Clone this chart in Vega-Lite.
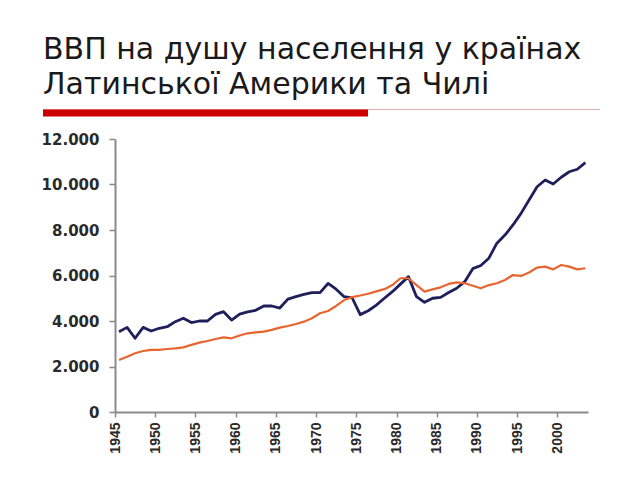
{
  "$schema": "https://vega.github.io/schema/vega-lite/v6.json",
  "width": 473,
  "height": 273,
  "autosize": {"type": "none"},
  "padding": {"left": 115, "top": 139, "right": 52, "bottom": 68},
  "background": "white",
  "config": {"view": {"stroke": null}, "axis": {"grid": false}},
  "title": {
    "text": ["ВВП на душу населення у країнах", "Латинської Америки та Чилі"],
    "anchor": "start",
    "frame": "group",
    "dx": -72,
    "font": "DejaVu Sans",
    "fontSize": 30,
    "fontWeight": "normal",
    "color": "#1a1a1a",
    "lineHeight": 35,
    "offset": 9
  },
  "layer": [
    {
      "data": {"values": [
        {"year": 1945, "series": "Чилі", "value": 3530},
        {"year": 1946, "series": "Чилі", "value": 3720},
        {"year": 1947, "series": "Чилі", "value": 3240},
        {"year": 1948, "series": "Чилі", "value": 3720},
        {"year": 1949, "series": "Чилі", "value": 3560},
        {"year": 1950, "series": "Чилі", "value": 3680},
        {"year": 1951, "series": "Чилі", "value": 3750},
        {"year": 1952, "series": "Чилі", "value": 3970},
        {"year": 1953, "series": "Чилі", "value": 4120},
        {"year": 1954, "series": "Чилі", "value": 3930},
        {"year": 1955, "series": "Чилі", "value": 4000},
        {"year": 1956, "series": "Чилі", "value": 4000},
        {"year": 1957, "series": "Чилі", "value": 4290},
        {"year": 1958, "series": "Чилі", "value": 4410},
        {"year": 1959, "series": "Чилі", "value": 4040},
        {"year": 1960, "series": "Чилі", "value": 4300},
        {"year": 1961, "series": "Чилі", "value": 4400},
        {"year": 1962, "series": "Чилі", "value": 4470},
        {"year": 1963, "series": "Чилі", "value": 4660},
        {"year": 1964, "series": "Чилі", "value": 4660},
        {"year": 1965, "series": "Чилі", "value": 4570},
        {"year": 1966, "series": "Чилі", "value": 4960},
        {"year": 1967, "series": "Чилі", "value": 5070},
        {"year": 1968, "series": "Чилі", "value": 5170},
        {"year": 1969, "series": "Чилі", "value": 5250},
        {"year": 1970, "series": "Чилі", "value": 5250},
        {"year": 1971, "series": "Чилі", "value": 5650},
        {"year": 1972, "series": "Чилі", "value": 5400},
        {"year": 1973, "series": "Чилі", "value": 5070},
        {"year": 1974, "series": "Чилі", "value": 5020},
        {"year": 1975, "series": "Чилі", "value": 4280},
        {"year": 1976, "series": "Чилі", "value": 4450},
        {"year": 1977, "series": "Чилі", "value": 4700},
        {"year": 1978, "series": "Чилі", "value": 5000},
        {"year": 1979, "series": "Чилі", "value": 5290},
        {"year": 1980, "series": "Чилі", "value": 5620},
        {"year": 1981, "series": "Чилі", "value": 5950},
        {"year": 1982, "series": "Чилі", "value": 5070},
        {"year": 1983, "series": "Чилі", "value": 4820},
        {"year": 1984, "series": "Чилі", "value": 5000},
        {"year": 1985, "series": "Чилі", "value": 5040},
        {"year": 1986, "series": "Чилі", "value": 5250},
        {"year": 1987, "series": "Чилі", "value": 5440},
        {"year": 1988, "series": "Чилі", "value": 5730},
        {"year": 1989, "series": "Чилі", "value": 6300},
        {"year": 1990, "series": "Чилі", "value": 6440},
        {"year": 1991, "series": "Чилі", "value": 6760},
        {"year": 1992, "series": "Чилі", "value": 7420},
        {"year": 1993, "series": "Чилі", "value": 7780},
        {"year": 1994, "series": "Чилі", "value": 8220},
        {"year": 1995, "series": "Чилі", "value": 8730},
        {"year": 1996, "series": "Чилі", "value": 9320},
        {"year": 1997, "series": "Чилі", "value": 9900},
        {"year": 1998, "series": "Чилі", "value": 10200},
        {"year": 1999, "series": "Чилі", "value": 10020},
        {"year": 2000, "series": "Чилі", "value": 10320},
        {"year": 2001, "series": "Чилі", "value": 10560},
        {"year": 2002, "series": "Чилі", "value": 10670},
        {"year": 2003, "series": "Чилі", "value": 10960},
        {"year": 1945, "series": "Латинська Америка", "value": 2290},
        {"year": 1946, "series": "Латинська Америка", "value": 2430},
        {"year": 1947, "series": "Латинська Америка", "value": 2580},
        {"year": 1948, "series": "Латинська Америка", "value": 2680},
        {"year": 1949, "series": "Латинська Америка", "value": 2730},
        {"year": 1950, "series": "Латинська Америка", "value": 2730},
        {"year": 1951, "series": "Латинська Америка", "value": 2770},
        {"year": 1952, "series": "Латинська Америка", "value": 2800},
        {"year": 1953, "series": "Латинська Америка", "value": 2840},
        {"year": 1954, "series": "Латинська Америка", "value": 2950},
        {"year": 1955, "series": "Латинська Америка", "value": 3050},
        {"year": 1956, "series": "Латинська Америка", "value": 3120},
        {"year": 1957, "series": "Латинська Америка", "value": 3210},
        {"year": 1958, "series": "Латинська Америка", "value": 3280},
        {"year": 1959, "series": "Латинська Америка", "value": 3240},
        {"year": 1960, "series": "Латинська Америка", "value": 3360},
        {"year": 1961, "series": "Латинська Америка", "value": 3460},
        {"year": 1962, "series": "Латинська Америка", "value": 3500},
        {"year": 1963, "series": "Латинська Америка", "value": 3530},
        {"year": 1964, "series": "Латинська Америка", "value": 3610},
        {"year": 1965, "series": "Латинська Америка", "value": 3710},
        {"year": 1966, "series": "Латинська Америка", "value": 3780},
        {"year": 1967, "series": "Латинська Америка", "value": 3870},
        {"year": 1968, "series": "Латинська Америка", "value": 3970},
        {"year": 1969, "series": "Латинська Америка", "value": 4120},
        {"year": 1970, "series": "Латинська Америка", "value": 4340},
        {"year": 1971, "series": "Латинська Америка", "value": 4440},
        {"year": 1972, "series": "Латинська Америка", "value": 4660},
        {"year": 1973, "series": "Латинська Америка", "value": 4920},
        {"year": 1974, "series": "Латинська Америка", "value": 5050},
        {"year": 1975, "series": "Латинська Америка", "value": 5120},
        {"year": 1976, "series": "Латинська Америка", "value": 5200},
        {"year": 1977, "series": "Латинська Америка", "value": 5300},
        {"year": 1978, "series": "Латинська Америка", "value": 5400},
        {"year": 1979, "series": "Латинська Америка", "value": 5580},
        {"year": 1980, "series": "Латинська Америка", "value": 5880},
        {"year": 1981, "series": "Латинська Америка", "value": 5880},
        {"year": 1982, "series": "Латинська Америка", "value": 5580},
        {"year": 1983, "series": "Латинська Америка", "value": 5290},
        {"year": 1984, "series": "Латинська Америка", "value": 5390},
        {"year": 1985, "series": "Латинська Америка", "value": 5480},
        {"year": 1986, "series": "Латинська Америка", "value": 5630},
        {"year": 1987, "series": "Латинська Америка", "value": 5700},
        {"year": 1988, "series": "Латинська Америка", "value": 5660},
        {"year": 1989, "series": "Латинська Америка", "value": 5550},
        {"year": 1990, "series": "Латинська Америка", "value": 5440},
        {"year": 1991, "series": "Латинська Америка", "value": 5580},
        {"year": 1992, "series": "Латинська Америка", "value": 5660},
        {"year": 1993, "series": "Латинська Америка", "value": 5800},
        {"year": 1994, "series": "Латинська Америка", "value": 6020},
        {"year": 1995, "series": "Латинська Америка", "value": 5980},
        {"year": 1996, "series": "Латинська Америка", "value": 6130},
        {"year": 1997, "series": "Латинська Америка", "value": 6350},
        {"year": 1998, "series": "Латинська Америка", "value": 6390},
        {"year": 1999, "series": "Латинська Америка", "value": 6270},
        {"year": 2000, "series": "Латинська Америка", "value": 6460},
        {"year": 2001, "series": "Латинська Америка", "value": 6390},
        {"year": 2002, "series": "Латинська Америка", "value": 6270},
        {"year": 2003, "series": "Латинська Америка", "value": 6320}
      ]},
      "mark": {"type": "line", "strokeJoin": "round"},
      "encoding": {
        "x": {"field": "year", "type": "quantitative", "scale": {"domain": [1944.5, 2003.33], "nice": false, "zero": false}, "axis": null},
        "y": {
          "field": "value", "type": "quantitative",
          "scale": {"domain": [0, 12000], "nice": false, "zero": true},
          "axis": {
            "title": null,
            "values": [0, 2000, 4000, 6000, 8000, 10000, 12000],
            "labelExpr": "replace(format(datum.value, ','), ',', '.')",
            "labelFont": "DejaVu Sans",
            "labelFontWeight": "bold",
            "labelFontSize": 15,
            "labelColor": "#2a2a2a",
            "labelPadding": 10,
            "tickSize": 6,
            "tickColor": "#8a8a8a",
            "tickWidth": 1.5,
            "domainColor": "#8a8a8a",
            "domainWidth": 2
          }
        },
        "color": {"field": "series", "type": "nominal", "scale": {"domain": ["Чилі", "Латинська Америка"], "range": ["#1f1f5c", "#e8652f"]}, "legend": null},
        "strokeWidth": {"field": "series", "type": "nominal", "scale": {"domain": ["Чилі", "Латинська Америка"], "range": [2.8, 2.2]}, "legend": null}
      }
    },
    {
      "data": {"values": [{"part": "thin"}]},
      "mark": {"type": "rule", "color": "#e3b0b0", "strokeWidth": 1},
      "encoding": {
        "x": {
          "datum": 1936.05, "type": "quantitative",
          "scale": {"domain": [1945, 2003.8], "nice": false, "zero": false},
          "axis": {
            "title": null,
            "values": [1945, 1950, 1955, 1960, 1965, 1970, 1975, 1980, 1985, 1990, 1995, 2000],
            "format": "d",
            "labelAngle": 270,
            "labelAlign": "right",
            "labelBaseline": "middle",
            "labelFont": "Liberation Sans",
            "labelFontWeight": "bold",
            "labelFontSize": 14,
            "labelColor": "#2a2a2a",
            "labelPadding": 5,
            "tickSize": 5,
            "tickColor": "#8a8a8a",
            "tickWidth": 1.5,
            "domainColor": "#8a8a8a",
            "domainWidth": 2
          }
        },
        "x2": {"datum": 2005.3},
        "y": {"datum": 13297, "type": "quantitative", "scale": {"domain": [0, 12000], "nice": false}}
      }
    },
    {
      "data": {"values": [{"part": "bar"}]},
      "mark": {"type": "rule", "color": "#cc0000", "strokeWidth": 7},
      "encoding": {
        "x": {"datum": 1936.05, "type": "quantitative", "scale": {"domain": [1945, 2003.8], "nice": false, "zero": false}, "axis": null},
        "x2": {"datum": 1976.45},
        "y": {"datum": 13143, "type": "quantitative", "scale": {"domain": [0, 12000], "nice": false}}
      }
    }
  ],
  "resolve": {"scale": {"x": "independent"}}
}
